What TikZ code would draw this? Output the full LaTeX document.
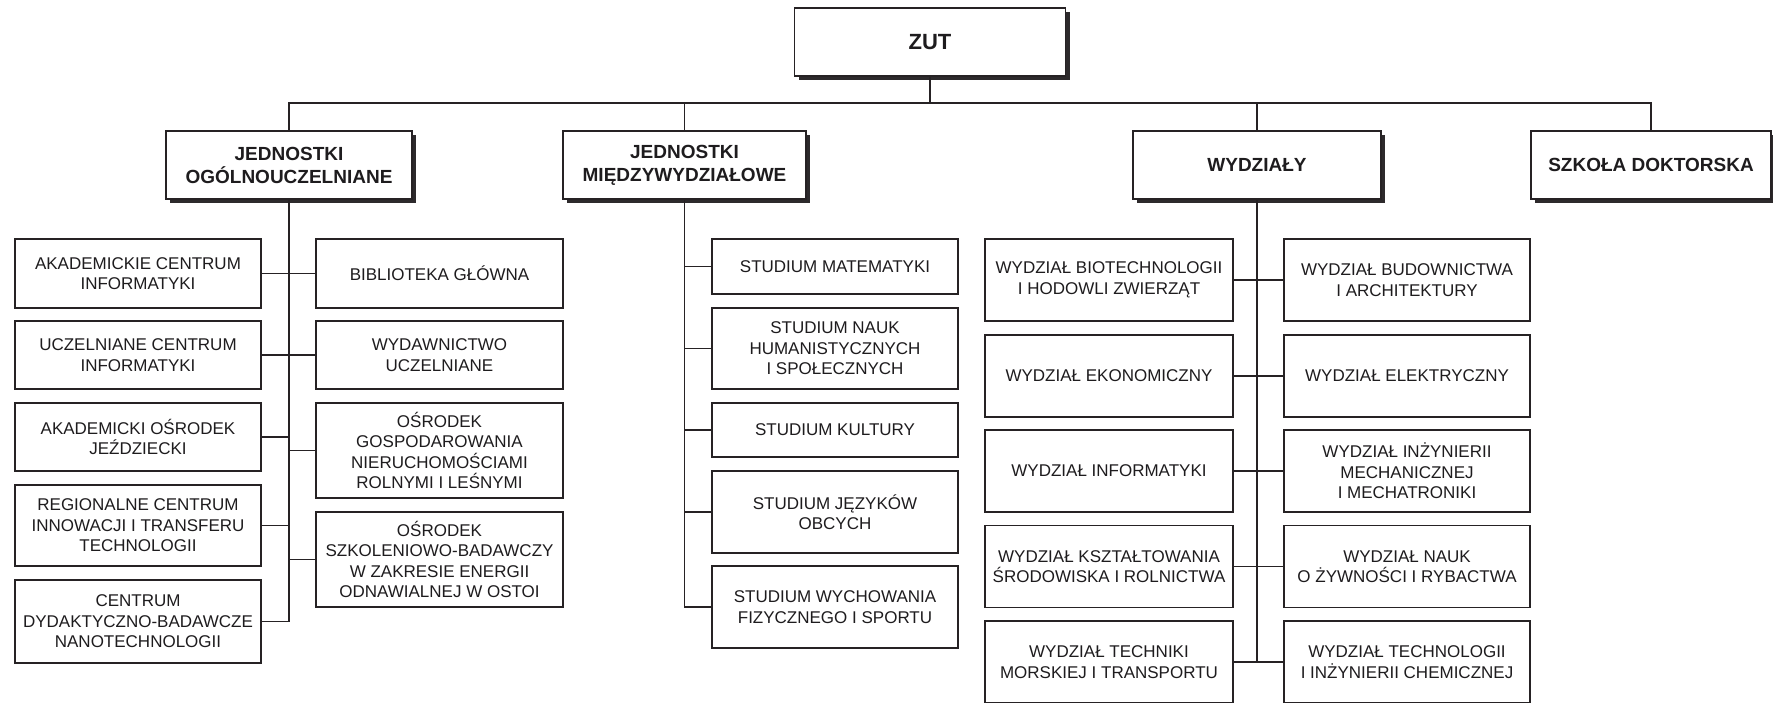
\documentclass[tikz,border=0pt]{standalone}
\usepackage{fontspec}
\setmainfont{Liberation Sans}
\usetikzlibrary{shadows}
\definecolor{linec}{RGB}{38,34,36}
\definecolor{txtc}{RGB}{30,28,30}
\definecolor{shadc}{RGB}{45,42,44}
\begin{document}
\begin{tikzpicture}[x=1pt,y=-1pt,
  every node/.style={inner sep=0pt, outer sep=0pt},
  hdr/.style={rectangle, draw=linec, line width=1.3pt, fill=white, align=center, text=txtc,
    font=\fontsize{19}{23}\selectfont\bfseries, minimum height=68pt,
    drop shadow={shadow xshift=4pt, shadow yshift=-4pt, fill=shadc, opacity=1}},
  cbox/.style={rectangle, draw=linec, line width=1.6pt, fill=white, align=center, text=txtc,
    font=\fontsize{17}{20.5}\selectfont},
  lcol/.style={cbox, minimum width=246pt},
  rcol/.style={cbox, minimum width=247pt},
  scol/.style={cbox, minimum width=246pt},
  wl/.style={cbox, minimum width=248pt, minimum height=82pt},
  wr/.style={cbox, minimum width=246pt, minimum height=82pt},
  conn/.style={draw=linec, line width=1.2pt}
]
\useasboundingbox (0,0) rectangle (1773,703);
\fill[white] (0,0) rectangle (1773,703);

% top level
\node[hdr, minimum width=271pt, font=\fontsize{22}{26}\selectfont\bfseries] (ZUT) at (930,42) {ZUT};
\node[hdr, minimum width=246pt] (JO) at (289,165) {JEDNOSTKI\\OGÓLNOUCZELNIANE};
\node[hdr, minimum width=243pt] (JM) at (684.5,165) {JEDNOSTKI\\MIĘDZYWYDZIAŁOWE};
\node[hdr, minimum width=248pt] (WY) at (1257,165) {WYDZIAŁY};
\node[hdr, minimum width=240pt] (SD) at (1651,165) {SZKOŁA DOKTORSKA};

\coordinate (bus) at (0,103);
\draw[conn] (JO.north) -- (JO.north |- bus) -- (SD.north |- bus) -- (SD.north);
\draw[conn] (ZUT.south) -- (ZUT.south |- bus);
\draw[conn] (JM.north) -- (JM.north |- bus);
\draw[conn] (WY.north) -- (WY.north |- bus);

% jednostki ogolnouczelniane
\node[lcol, minimum height=69pt] (L1) at (138,273.5) {AKADEMICKIE CENTRUM\\INFORMATYKI};
\node[lcol, minimum height=68pt] (L2) at (138,355) {UCZELNIANE CENTRUM\\INFORMATYKI};
\node[lcol, minimum height=68pt] (L3) at (138,437) {AKADEMICKI OŚRODEK\\JEŹDZIECKI};
\node[lcol, minimum height=81pt] (L4) at (138,525.5) {REGIONALNE CENTRUM\\INNOWACJI I TRANSFERU\\TECHNOLOGII};
\node[lcol, minimum height=83pt] (L5) at (138,621.5) {CENTRUM\\DYDAKTYCZNO-BADAWCZE\\NANOTECHNOLOGII};
\node[rcol, minimum height=69pt] (R1) at (439.5,273.5) {BIBLIOTEKA GŁÓWNA};
\node[rcol, minimum height=68pt] (R2) at (439.5,355) {WYDAWNICTWO\\UCZELNIANE};
\node[rcol, minimum height=95pt] (R3) at (439.5,450.5) {OŚRODEK\\GOSPODAROWANIA\\NIERUCHOMOŚCIAMI\\ROLNYMI I LEŚNYMI};
\node[rcol, minimum height=95pt] (R4) at (439.5,559.5) {OŚRODEK\\SZKOLENIOWO-BADAWCZY\\W ZAKRESIE ENERGII\\ODNAWIALNEJ W OSTOI};

\draw[conn] (JO.south) -- (JO.south |- L5.east) -- (L5.east);
\draw[conn] (L1.east) -- (R1.west);
\draw[conn] (L2.east) -- (R2.west);
\draw[conn] (L3.east) -- (L3.east -| JO.south);
\draw[conn] (L4.east) -- (L4.east -| JO.south);
\draw[conn] (R3.west) -- (R3.west -| JO.south);
\draw[conn] (R4.west) -- (R4.west -| JO.south);

% jednostki miedzywydzialowe
\node[scol, minimum height=55pt] (S1) at (835,266.5) {STUDIUM MATEMATYKI};
\node[scol, minimum height=81pt] (S2) at (835,348.5) {STUDIUM NAUK\\HUMANISTYCZNYCH\\I SPOŁECZNYCH};
\node[scol, minimum height=54pt] (S3) at (835,430) {STUDIUM KULTURY};
\node[scol, minimum height=82pt] (S4) at (835,512) {STUDIUM JĘZYKÓW\\OBCYCH};
\node[scol, minimum height=82pt] (S5) at (835,607) {STUDIUM WYCHOWANIA\\FIZYCZNEGO I SPORTU};

\draw[conn] (JM.south) -- (JM.south |- S5.west) -- (S5.west);
\draw[conn] (S1.west) -- (S1.west -| JM.south);
\draw[conn] (S2.west) -- (S2.west -| JM.south);
\draw[conn] (S3.west) -- (S3.west -| JM.south);
\draw[conn] (S4.west) -- (S4.west -| JM.south);

% wydzialy
\node[wl] (W1L) at (1109,280) {WYDZIAŁ BIOTECHNOLOGII\\I HODOWLI ZWIERZĄT};
\node[wl] (W2L) at (1109,376) {WYDZIAŁ EKONOMICZNY};
\node[wl] (W3L) at (1109,471) {WYDZIAŁ INFORMATYKI};
\node[wl] (W4L) at (1109,566.5) {WYDZIAŁ KSZTAŁTOWANIA\\ŚRODOWISKA I ROLNICTWA};
\node[wl] (W5L) at (1109,662) {WYDZIAŁ TECHNIKI\\MORSKIEJ I TRANSPORTU};
\node[wr] (W1R) at (1407,280) {WYDZIAŁ BUDOWNICTWA\\I ARCHITEKTURY};
\node[wr] (W2R) at (1407,376) {WYDZIAŁ ELEKTRYCZNY};
\node[wr] (W3R) at (1407,471) {WYDZIAŁ INŻYNIERII\\MECHANICZNEJ\\I MECHATRONIKI};
\node[wr] (W4R) at (1407,566.5) {WYDZIAŁ NAUK\\O ŻYWNOŚCI I RYBACTWA};
\node[wr] (W5R) at (1407,662) {WYDZIAŁ TECHNOLOGII\\I INŻYNIERII CHEMICZNEJ};

\draw[conn] (WY.south) -- (WY.south |- W5L.east);
\draw[conn] (W1L.east) -- (W1R.west);
\draw[conn] (W2L.east) -- (W2R.west);
\draw[conn] (W3L.east) -- (W3R.west);
\draw[conn] (W4L.east) -- (W4R.west);
\draw[conn] (W5L.east) -- (W5R.west);
\end{tikzpicture}
\end{document}
